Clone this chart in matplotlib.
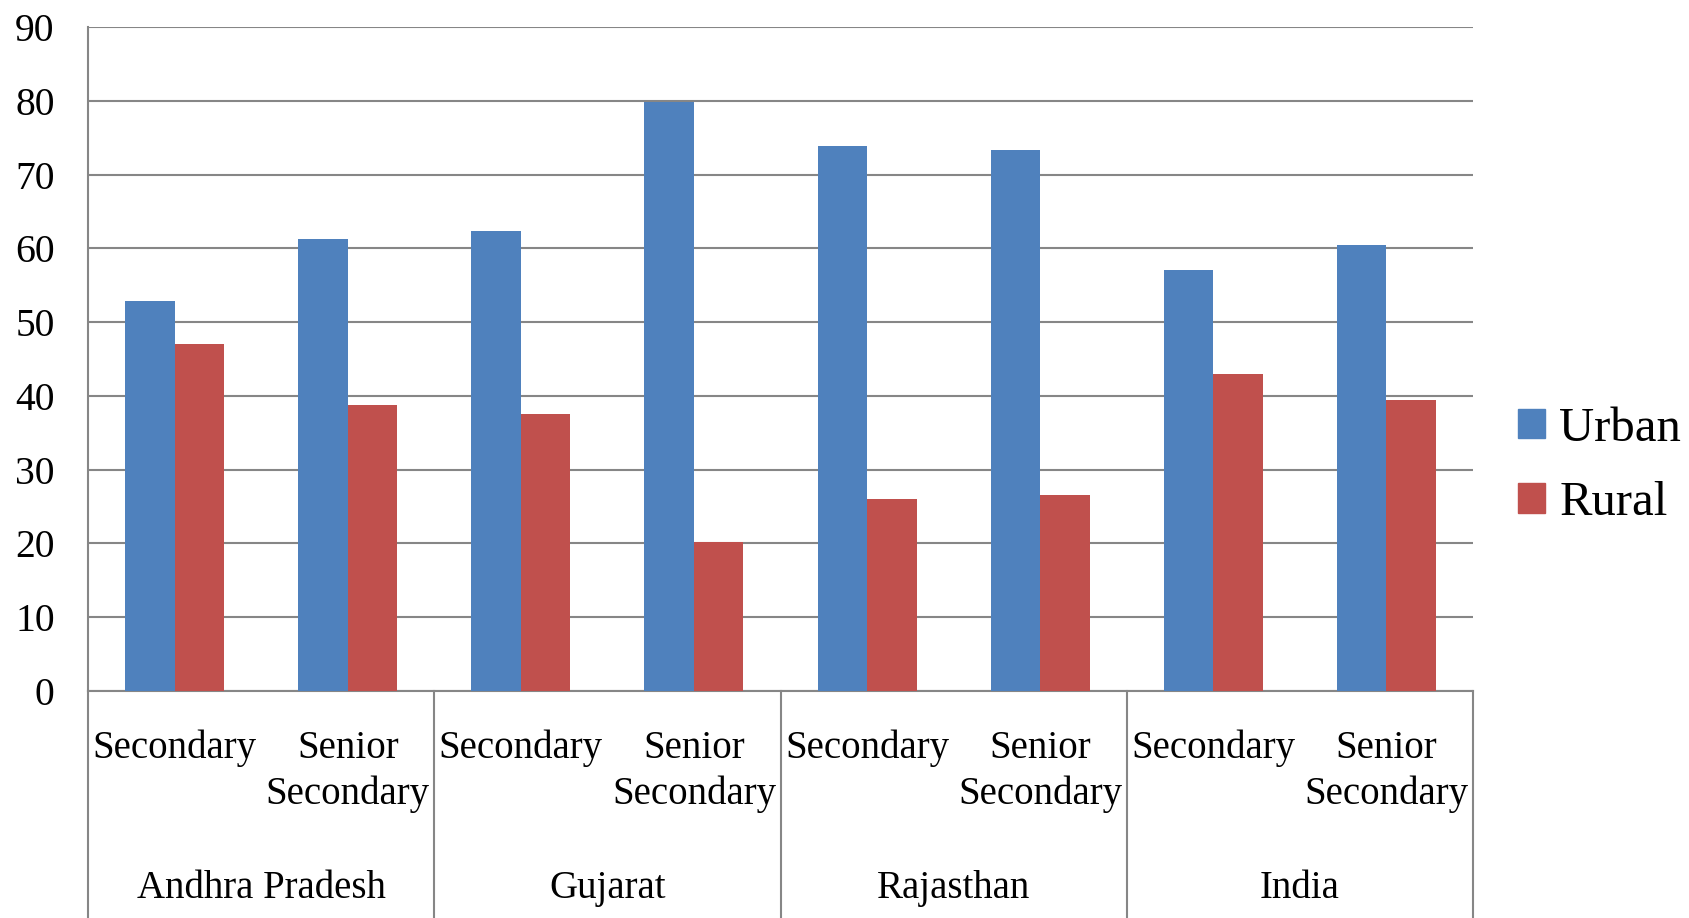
import numpy as np
import matplotlib
matplotlib.use('Agg')
import matplotlib.pyplot as plt
from matplotlib.patches import Patch

states = ['Andhra Pradesh', 'Gujarat', 'Rajasthan', 'India']
levels = ['Secondary', 'Senior\nSecondary']
urban = [52.9, 61.2, 62.4, 79.8, 73.9, 73.3, 57.0, 60.5]
rural = [47.0, 38.7, 37.5, 20.2, 26.0, 26.6, 43.0, 39.4]

blue = '#4F81BD'
red = '#C0504D'
grid_color = '#868686'

plt.rcParams['font.family'] = ['Liberation Serif', 'DejaVu Serif']

fig = plt.figure(figsize=(16.89, 9.18), dpi=100)
ax = fig.add_axes([88 / 1689, 1 - 691 / 918, (1473 - 88) / 1689, (691 - 27) / 918])

x = np.arange(len(urban))
w = 1 / 3.5
ax.bar(x - w / 2, urban, w, color=blue, zorder=3)
ax.bar(x + w / 2, rural, w, color=red, zorder=3)

ax.set_xlim(-0.5, len(urban) - 0.5)
ax.set_ylim(0, 90)
ax.set_yticks(range(0, 91, 10))
ax.yaxis.grid(True, color=grid_color, linewidth=1.5, zorder=0)
ax.tick_params(axis='y', length=0, pad=24, labelsize=28.5)
ax.set_xticks([])
for side in ['top', 'right']:
    ax.spines[side].set_visible(False)
ax.spines['left'].set_color(grid_color)
ax.spines['left'].set_linewidth(1.5)
ax.spines['bottom'].set_color(grid_color)
ax.spines['bottom'].set_linewidth(1.5)

# category labels below the axis
trans = ax.get_xaxis_transform()
for i in x:
    ax.text(i, -0.058, levels[i % 2], transform=trans, ha='center', va='top',
            multialignment='center', fontsize=28, linespacing=1.32)
for j, state in enumerate(states):
    ax.text(2 * j + 0.5, -0.297, state, transform=trans, ha='center', va='center', fontsize=28)

# group dividers down to the bottom edge
for d in np.arange(-0.5, len(urban), 2):
    ax.plot([d, d], [0, -0.35], transform=trans, color=grid_color, linewidth=1.5, clip_on=False)

handles = [Patch(color=blue, label='Urban'), Patch(color=red, label='Rural')]
fig.legend(handles=handles, loc='center left', bbox_to_anchor=(1518 / 1689, 1 - 466 / 918),
           frameon=False, fontsize=35, handlelength=0.55, handleheight=0.55,
           handletextpad=0.3, labelspacing=0.62, borderpad=0, borderaxespad=0)

fig.savefig('out.png', dpi=100)
